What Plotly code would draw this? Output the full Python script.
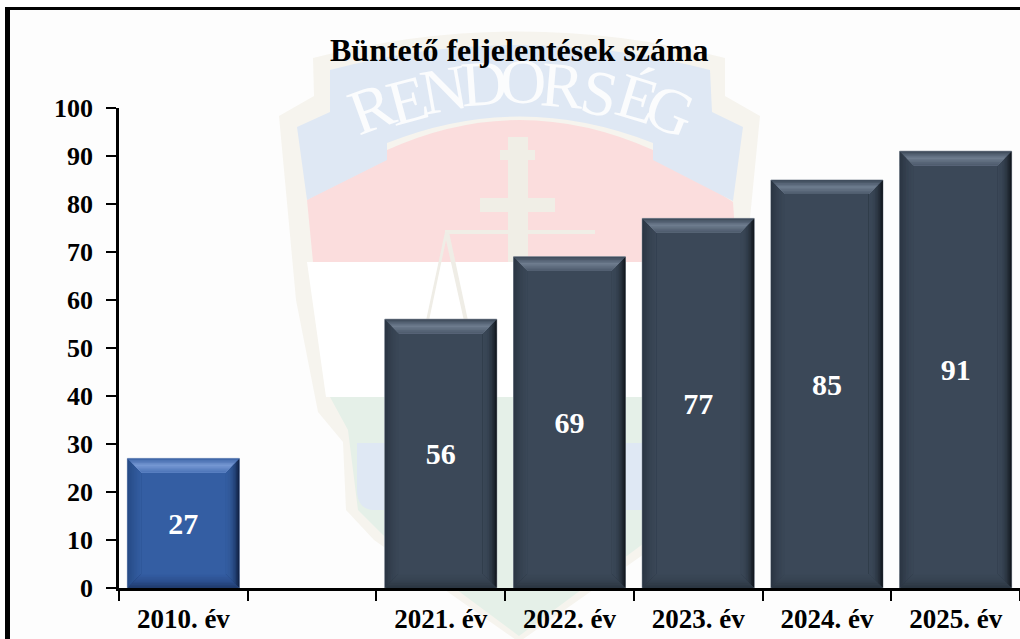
import plotly.graph_objects as go

TITLE = "Büntető feljelentések száma"
categories = ["2010. év", " ", "2021. év", "2022. év", "2023. év", "2024. év", "2025. év"]
values = [27, None, 56, 69, 77, 85, 91]
y_ticks = [0, 10, 20, 30, 40, 50, 60, 70, 80, 90, 100]

L, T, PW, PH, W, H = 119, 108, 901, 480, 1020, 639
BAR_W = 0.87
FONT = "Liberation Serif"
BLUE = dict(face="#345EA3", top=["#3B62A5", "#7597D2", "#4C74B8"], left=["#264A85", "#2E5595", "#345EA3"],
            right=["#0E1E3E", "#24447A", "#305898", "#345EA3"], bottom=["#1E3A6A", "#2C5090", "#345EA3"], edge="#8FA3C4")
DARK = dict(face="#3B4858", top=["#3A4757", "#6E7C8E", "#4C5A6B"], left=["#2A3542", "#354150", "#3B4858"],
            right=["#0F141A", "#2A3440", "#374453", "#3B4858"], bottom=["#2A3440", "#364250", "#3B4858"], edge="#9AA2AC")


def hex2(c):
    return [int(c[i:i + 2], 16) for i in (1, 3, 5)]


def ramp(stops, t):
    s = t * (len(stops) - 1)
    i = min(int(s), len(stops) - 2)
    f = s - i
    a, b = hex2(stops[i]), hex2(stops[i + 1])
    return "rgb(%d,%d,%d)" % tuple(round(a[k] + (b[k] - a[k]) * f) for k in range(3))


def px(x):
    return (x - L) / PW


def py(y):
    return (T + PH - y) / PH


def path(cmds):
    """cmds: list of (letter, (x, y), ...) in page pixels, converted to paper coordinates."""
    out = []
    for c in cmds:
        out.append(c[0] + " ".join(f"{px(p[0]):.5f},{py(p[1]):.5f}" for p in c[1:]))
    return " ".join(out) + " Z"


def wm(cmds, fill, line=None, lw=0):
    return dict(type="path", xref="paper", yref="paper", layer="below", path=path(cmds),
                fillcolor=fill, line=dict(color=line or fill, width=lw))


shapes = []
# Emblem watermark
CREAM, WBLUE, WRED, WGREEN = "#F6F4EE", "#DFE8F4", "#FBDDDD", "#E5F0E8"
shapes.append(wm([("M", (279, 116)), ("L", (314, 96)), ("L", (313, 58)), ("Q", (519, 5), (725, 58)),
                  ("L", (725, 96)), ("L", (760, 116)), ("L", (742, 300)), ("L", (720, 412)),
                  ("L", (695, 442)), ("L", (692, 510)), ("L", (664, 540)), ("L", (519, 642)),
                  ("L", (374, 540)), ("L", (346, 510)), ("L", (343, 442)), ("L", (318, 412)),
                  ("L", (296, 300))], CREAM))
shapes.append(wm([("M", (307, 262)), ("L", (731, 262)), ("L", (712, 397)), ("L", (326, 397))], "#FFFFFF"))
shapes.append(wm([("M", (330, 397)), ("L", (706, 397)), ("L", (690, 430)), ("L", (680, 510)), ("L", (655, 535)),
                  ("L", (519, 636)), ("L", (383, 535)), ("L", (358, 510)), ("L", (348, 430))], WGREEN))
shapes.append(wm([("M", (357, 443)), ("L", (450, 443)), ("L", (470, 510)), ("L", (372, 510)), ("Q", (357, 508), (357, 490))], WBLUE))
shapes.append(wm([("M", (681, 443)), ("L", (590, 443)), ("L", (570, 510)), ("L", (666, 510)), ("Q", (681, 508), (681, 490))], WBLUE))
shapes.append(wm([("M", (313, 262)), ("L", (307, 200)), ("L", (387, 150)), ("Q", (519, 90), (653, 150)),
                  ("L", (733, 202)), ("L", (737, 262))], WRED))
# banner with tails
shapes.append(wm([("M", (297, 127)), ("L", (330, 112)), ("L", (330, 70)), ("Q", (519, 20), (710, 70)),
                  ("L", (712, 112)), ("L", (743, 127)), ("L", (733, 201)), ("L", (653, 160)), ("L", (653, 143)),
                  ("Q", (519, 90), (387, 143)), ("L", (387, 160)), ("L", (307, 200))], WBLUE))
# cross
shapes.append(wm([("M", (508, 137)), ("L", (528, 137)), ("L", (528, 150)), ("L", (535, 150)), ("L", (535, 160)),
                  ("L", (528, 160)), ("L", (528, 198)), ("L", (555, 198)), ("L", (555, 212)), ("L", (528, 212)),
                  ("L", (528, 262)), ("L", (508, 262)), ("L", (508, 212)), ("L", (480, 212)), ("L", (480, 198)),
                  ("L", (508, 198)), ("L", (508, 160)), ("L", (500, 160)), ("L", (500, 150)), ("L", (508, 150))], "#F0EEE6"))
# scales
shapes.append(wm([("M", (445, 230)), ("L", (595, 230)), ("L", (595, 234)), ("L", (445, 234))], "#F0EEE6"))
shapes.append(wm([("M", (445, 232)), ("L", (424, 330)), ("L", (427, 330)), ("L", (446, 240)), ("L", (466, 330)),
                  ("L", (470, 330)), ("L", (449, 232))], "#EFEDE6"))
# frame
shapes.append(dict(type="rect", xref="paper", yref="paper", layer="below", x0=px(5), x1=px(10), y0=py(640), y1=py(7),
                   fillcolor="#000000", line=dict(width=0)))
shapes.append(dict(type="rect", xref="paper", yref="paper", layer="below", x0=px(5), x1=px(1021), y0=py(10), y1=py(7),
                   fillcolor="#000000", line=dict(width=0)))

# Bevel: nested strips computed from each bar's value
BX, BY = 14 / (PW / len(categories)), 14 / (PH / 100)
STEPS = 9
for i, v in enumerate(values):
    if v is None:
        continue
    pal = BLUE if i == 0 else DARK
    x0, x1 = i - BAR_W / 2, i + BAR_W / 2
    for side in ("left", "right", "bottom", "top"):
        for k in range(STEPS):
            t = k / STEPS
            ix, iy = BX * t, BY * t
            if side == "top":
                pts = [(x0 + ix, v - iy), (x1 - ix, v - iy), (x1 - BX, v - BY), (x0 + BX, v - BY)]
            elif side == "bottom":
                pts = [(x0 + ix, iy), (x1 - ix, iy), (x1 - BX, BY), (x0 + BX, BY)]
            elif side == "left":
                pts = [(x0 + ix, iy), (x0 + ix, v - iy), (x0 + BX, v - BY), (x0 + BX, BY)]
            else:
                pts = [(x1 - ix, iy), (x1 - ix, v - iy), (x1 - BX, v - BY), (x1 - BX, BY)]
            d = "M" + " L".join(f"{a:.4f},{b:.3f}" for a, b in pts) + " Z"
            shapes.append(dict(type="path", xref="x", yref="y", layer="above", path=d,
                               fillcolor=ramp(pal[side], (k + 0.5) / STEPS), line=dict(width=0)))

# Watermark lettering
letters = [("R", 371, 108, -20), ("E", 407, 100, -15), ("N", 444, 90, -10), ("D", 484, 83, -4), ("O", 523, 81, 0),
           ("R", 562, 85, 5), ("S", 600, 93, 12), ("É", 637, 98, 17), ("G", 670, 111, 22)]
annotations = [dict(text=c, xref="paper", yref="paper", x=px(x), y=py(y), xanchor="center", yanchor="middle",
                    showarrow=False, textangle=a, font=dict(family=FONT, size=64, color="#FBFCFD"))
               for c, x, y, a in letters]
annotations.append(dict(text=f"<b>{TITLE}</b>", xref="paper", yref="paper", x=px(519.5), y=py(50), xanchor="center",
                        yanchor="middle", showarrow=False, font=dict(family=FONT, size=32, color="#000000")))

fig = go.Figure(go.Bar(
    x=categories, y=values, width=BAR_W,
    marker=dict(color=[(BLUE if i == 0 else DARK)["face"] for i in range(len(values))],
                line=dict(color=[(BLUE if i == 0 else DARK)["edge"] for i in range(len(values))], width=1)),
    text=[f"<b>{v}</b>" if v is not None else "" for v in values],
    textposition="inside", insidetextanchor="middle", textangle=0,
    insidetextfont=dict(family=FONT, size=30, color="#FFFFFF"),
    hoverinfo="skip",
))
fig.update_layout(
    width=W, height=H, margin=dict(l=L, r=0, t=T, b=H - T - PH, autoexpand=False),
    paper_bgcolor="#FDFDFD", plot_bgcolor="rgba(0,0,0,0)", showlegend=False,
    shapes=shapes, annotations=annotations,
    xaxis=dict(type="category", categoryorder="array", categoryarray=categories, tickson="boundaries",
               range=[-0.5, 6.5], showline=True, linecolor="#000000", linewidth=2.5, ticks="outside", ticklen=10,
               tickwidth=2, tickcolor="#000000", showgrid=False, zeroline=False,
               ticklabelstandoff=5, tickfont=dict(family=FONT, size=27, color="#000000", weight="bold")),
    yaxis=dict(range=[0, 100], tickvals=y_ticks, showline=True, linecolor="#000000", linewidth=2.5, ticks="outside",
               ticklen=10, tickwidth=2, tickcolor="#000000", showgrid=False, zeroline=False,
               ticklabelstandoff=8, tickfont=dict(family=FONT, size=26, color="#000000", weight="bold")),
)
fig.write_html("out.html", config=dict(displayModeBar=False),
               post_script="document.body.style.margin='0';document.body.style.overflow='hidden';")
